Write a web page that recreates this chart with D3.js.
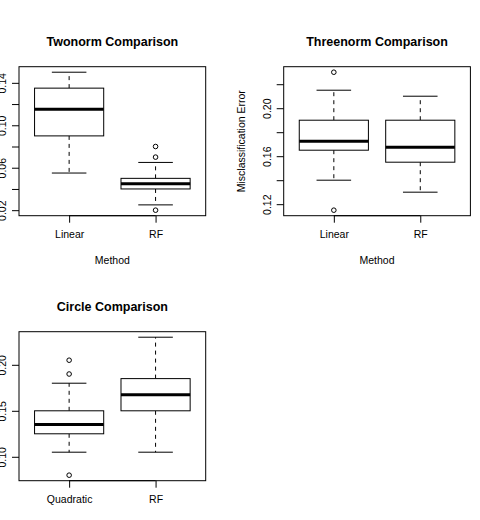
<!DOCTYPE html>
<html>
<head>
<meta charset="utf-8">
<script src="https://cdn.jsdelivr.net/npm/d3@7"></script>
<style>
  body { margin: 0; background: #fff; }
  svg { display: block; font-family: "Liberation Sans", Arial, sans-serif; }
</style>
</head>
<body>
<svg id="chart" width="480" height="520"></svg>
<script>
// box stats per group: [lower whisker, Q1, median, Q3, upper whisker]
const twonormGroups = ['Linear', 'RF'];
const twonormStats = [
  [0.055, 0.09, 0.115, 0.135, 0.15],
  [0.025, 0.04, 0.045, 0.05, 0.065],
];
const twonormOutliers = [[], [0.08, 0.07, 0.02]];
const twonormTicks = [0.02, 0.04, 0.06, 0.08, 0.10, 0.12, 0.14];
const twonormTickLabels = ['0.02', '', '0.06', '', '0.10', '', '0.14'];

const threenormGroups = ['Linear', 'RF'];
const threenormStats = [
  [0.14, 0.165, 0.1725, 0.19, 0.215],
  [0.13, 0.155, 0.1675, 0.19, 0.21],
];
const threenormOutliers = [[0.23, 0.115], []];
const threenormTicks = [0.12, 0.14, 0.16, 0.18, 0.20, 0.22];
const threenormTickLabels = ['0.12', '', '0.16', '', '0.20', ''];

const circleGroups = ['Quadratic', 'RF'];
const circleStats = [
  [0.105, 0.125, 0.135, 0.15, 0.18],
  [0.105, 0.15, 0.1675, 0.185, 0.23],
];
const circleOutliers = [[0.205, 0.19, 0.08], []];
const circleTicks = [0.10, 0.15, 0.20];
const circleTickLabels = ['0.10', '0.15', '0.20'];

const svg = d3.select('#chart');
const plotW = 186.7, plotH = 149;

function drawPanel(o) {
  const g = svg.append('g').attr('transform', `translate(${o.left},${o.top})`);

  // R style: data range stretched 4% on each side
  const all = o.stats.flat().concat(o.outliers.flat());
  const [lo, hi] = d3.extent(all);
  const pad = (hi - lo) * 0.04;
  const y = d3.scaleLinear().domain([lo - pad, hi + pad]).range([plotH, 0]);
  const x = d3.scalePoint().domain(o.groups).range([0, plotW]).padding(0.58);
  const boxW = x.step() * 0.8;

  const box = g.selectAll('g.box')
    .data(o.groups.map((name, i) => ({ name, s: o.stats[i], out: o.outliers[i] })))
    .join('g')
    .attr('class', 'box')
    .attr('transform', (d) => `translate(${x(d.name)},0)`);

  // whiskers
  box.append('line')
    .attr('y1', (d) => y(d.s[3])).attr('y2', (d) => y(d.s[4]))
    .attr('stroke', '#000').attr('stroke-dasharray', '4,4');
  box.append('line')
    .attr('y1', (d) => y(d.s[1])).attr('y2', (d) => y(d.s[0]))
    .attr('stroke', '#000').attr('stroke-dasharray', '4,4');
  box.append('line')
    .attr('x1', -boxW / 4).attr('x2', boxW / 4)
    .attr('y1', (d) => y(d.s[4])).attr('y2', (d) => y(d.s[4]))
    .attr('stroke', '#000');
  box.append('line')
    .attr('x1', -boxW / 4).attr('x2', boxW / 4)
    .attr('y1', (d) => y(d.s[0])).attr('y2', (d) => y(d.s[0]))
    .attr('stroke', '#000');

  // box + median
  box.append('rect')
    .attr('x', -boxW / 2).attr('width', boxW)
    .attr('y', (d) => y(d.s[3]))
    .attr('height', (d) => y(d.s[1]) - y(d.s[3]))
    .attr('fill', '#fff').attr('stroke', '#000');
  box.append('line')
    .attr('x1', -boxW / 2).attr('x2', boxW / 2)
    .attr('y1', (d) => y(d.s[2])).attr('y2', (d) => y(d.s[2]))
    .attr('stroke', '#000').attr('stroke-width', 3);

  // outliers
  box.selectAll('circle')
    .data((d) => d.out)
    .join('circle')
    .attr('cy', (d) => y(d))
    .attr('r', 2.3)
    .attr('fill', 'none').attr('stroke', '#000');

  // plot frame
  g.append('rect')
    .attr('width', plotW).attr('height', plotH)
    .attr('fill', 'none').attr('stroke', '#000');

  // y axis
  const ya = g.append('g')
    .call(d3.axisLeft(y).tickValues(o.ticks).tickSize(7)
      .tickFormat((d, i) => o.tickLabels[i]));
  ya.select('.domain').remove();
  ya.selectAll('text')
    .attr('x', 0).attr('y', -13.2).attr('dy', 0)
    .attr('transform', 'rotate(-90)')
    .attr('text-anchor', 'middle')
    .attr('fill', '#000')
    .style('font-size', '10.5px');

  // x axis
  const xa = g.append('g')
    .attr('transform', `translate(0,${plotH})`)
    .call(d3.axisBottom(x).tickSize(7));
  xa.select('.domain').remove();
  xa.append('line')
    .attr('x1', x(o.groups[0])).attr('x2', x(o.groups[o.groups.length - 1]))
    .attr('stroke', '#000');
  xa.selectAll('text')
    .attr('y', 22.8).attr('dy', 0)
    .attr('fill', '#000')
    .style('font-size', '10.5px');

  g.append('text')
    .attr('x', plotW / 2).attr('y', -20.7)
    .attr('text-anchor', 'middle')
    .style('font-size', '12.5px').style('font-weight', 'bold')
    .text(o.title);

  if (o.xlab) {
    g.append('text')
      .attr('x', plotW / 2).attr('y', plotH + 48.3)
      .attr('text-anchor', 'middle')
      .style('font-size', '10.5px')
      .text(o.xlab);
  }
  if (o.ylab) {
    g.append('text')
      .attr('transform', `translate(-38.7,${plotH / 2}) rotate(-90)`)
      .attr('text-anchor', 'middle')
      .style('font-size', '10.5px')
      .text(o.ylab);
  }
}

drawPanel({
  left: 19, top: 66.7, title: 'Twonorm Comparison',
  groups: twonormGroups, stats: twonormStats, outliers: twonormOutliers,
  ticks: twonormTicks, tickLabels: twonormTickLabels, xlab: 'Method',
});
drawPanel({
  left: 283.7, top: 66.7, title: 'Threenorm Comparison',
  groups: threenormGroups, stats: threenormStats, outliers: threenormOutliers,
  ticks: threenormTicks, tickLabels: threenormTickLabels,
  xlab: 'Method', ylab: 'Misclassification Error',
});
drawPanel({
  left: 19, top: 331.7, title: 'Circle Comparison',
  groups: circleGroups, stats: circleStats, outliers: circleOutliers,
  ticks: circleTicks, tickLabels: circleTickLabels,
});
</script>
</body>
</html>
